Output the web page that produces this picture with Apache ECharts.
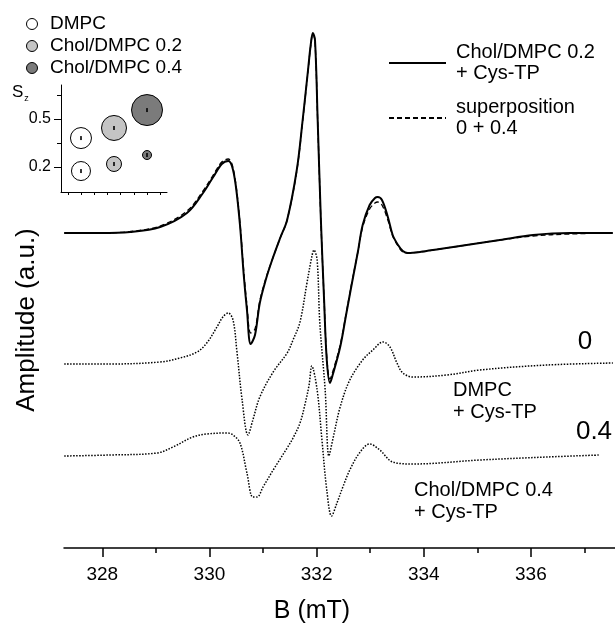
<!DOCTYPE html>
<html>
<head>
<meta charset="utf-8">
<script src="https://cdn.jsdelivr.net/npm/echarts@6/dist/echarts.min.js"></script>
<style>
  html, body { margin: 0; padding: 0; background: #fff; }
  #main { width: 615px; height: 623px; }
</style>
</head>
<body>
<div id="main"></div>
<script>
// EPR spectra, B (mT) against amplitude (a.u.), each spectrum drawn around its own baseline
const myChart = echarts.init(document.getElementById('main'));

const FONT = 'Liberation Sans, Arial, sans-serif';

// top pair: Chol/DMPC 0.2 + Cys-TP (solid) and superposition 0 + 0.4 (dashed)
const fieldTop = [327.29, 327.96, 328.52, 329.08, 329.58, 329.88, 330.07, 330.23, 330.35, 330.42,
  330.49, 330.57, 330.64, 330.70, 330.77, 330.85, 330.94, 331.05, 331.17, 331.32,
  331.45, 331.63, 331.74, 331.84, 331.89, 331.93, 331.97, 332.02, 332.08, 332.14,
  332.19, 332.25, 332.30, 332.44, 332.55, 332.66, 332.77, 332.86, 332.99, 333.09,
  333.14, 333.22, 333.33, 333.42, 333.52, 333.61, 333.70, 333.93, 334.30, 334.80,
  335.42, 336.04, 336.73, 337.53];
const ampChol02 = [0, 0, 1, 6, 20, 40, 56, 69, 72, 67,
  48, 8, -42, -77, -111, -102, -70, -47, -27, -5,
  13, 63, 113, 163, 188, 200, 193, 113, 13, -67,
  -127, -150, -142, -114, -82, -50, -19, 8, 28, 35,
  36, 33, 16, -2, -12, -18, -20, -19, -16, -12,
  -7, -2, 0, 0];
const ampSuperpos = [0, 0, 1.5, 7, 22, 42, 58, 71, 74, 69,
  50, 10, -38, -72, -100, -96, -68, -46, -27, -5,
  13, 62, 112, 162, 187, 199, 192, 112, 12, -66,
  -124, -146, -139, -112, -81, -49, -19, 6, 24, 30,
  31, 28, 13, -3, -13, -19, -20, -19, -16, -12,
  -7, -3, -1, 0];

// DMPC + Cys-TP ("0")
const field0 = [327.29, 328.14, 329.08, 329.45, 329.77, 329.95, 330.14, 330.25, 330.35, 330.44,
  330.51, 330.61, 330.72, 330.81, 330.94, 331.19, 331.45, 331.56, 331.69, 331.82,
  331.91, 331.95, 332.01, 332.06, 332.16, 332.23, 332.30, 332.44, 332.62, 332.86,
  333.05, 333.24, 333.37, 333.50, 333.61, 333.80, 334.43, 335.05, 336.30, 337.53];
const amp0 = [0, 0, 2, 6, 12, 21, 37, 47, 51, 44,
  14, -36, -71, -56, -33, -8, 11, 24, 42, 81,
  107, 114, 104, 41, -26, -92, -76, -43, -16, 4,
  14, 22, 17, 1, -9, -13, -11, -6, -1, 1];

// Chol/DMPC 0.4 + Cys-TP ("0.4")
const field04 = [327.29, 328.14, 329.02, 329.32, 329.69, 329.95, 330.33, 330.44, 330.57, 330.70,
  330.81, 330.89, 331.00, 331.19, 331.45, 331.56, 331.69, 331.78, 331.86, 331.91,
  332.01, 332.10, 332.19, 332.28, 332.38, 332.49, 332.62, 332.80, 332.99, 333.18,
  333.42, 333.80, 335.05, 336.30, 337.29];
const amp04 = [0, 1, 3, 9, 19, 22, 23, 21, 13, -17,
  -41, -41, -31, -14, 8, 18, 33, 51, 71, 90,
  66, 16, -34, -60, -47, -31, -14, 3, 12, 6,
  -6, -8, -4, -1, 1];

// vertical stacking of the three traces
const offsetTop = 315;
const offset0 = 184;
const offset04 = 92;

const majorTicks = [328, 330, 332, 334, 336];
const minorTicks = [329, 331, 333, 335, 337];

// inset: order parameter S_z
const insetNames = ['DMPC', 'Chol/DMPC 0.2', 'Chol/DMPC 0.4'];
const insetChol = [0, 0.2, 0.4];
const szUpper = [0.381, 0.444, 0.556];
const szLower = [0.175, 0.219, 0.275];
const sizeUpper = [21, 25, 31];
const sizeLower = [19, 15, 9];
const insetColors = ['#ffffff', '#c4c4c4', '#7b7b7b'];
const insetXTicks = [-0.08, 0, 0.08, 0.16, 0.24, 0.32, 0.40, 0.48];
const insetYMajor = [0.2, 0.5];
const insetYMinor = [0.35, 0.65];

const nameSolid = 'Chol/DMPC 0.2\n+ Cys-TP';
const nameDashed = 'superposition\n0 + 0.4';

const stack = (field, amp, off) => field.map((b, i) => [b, amp[i] + off]);

const insetSeries = insetNames.map((name, i) => ({
  name: name,
  type: 'scatter',
  xAxisIndex: 2,
  yAxisIndex: 1,
  symbol: 'circle',
  symbolSize: v => v[2],
  itemStyle: { color: insetColors[i], borderColor: '#000', borderWidth: 1, opacity: 1 },
  data: [[insetChol[i], szUpper[i], sizeUpper[i]], [insetChol[i], szLower[i], sizeLower[i]]],
  z: 3
}));

const centerMarks = {
  type: 'scatter',
  xAxisIndex: 2,
  yAxisIndex: 1,
  symbol: 'rect',
  symbolSize: [2, 4],
  itemStyle: { color: '#000' },
  silent: true,
  data: insetChol.map((c, i) => [c, szUpper[i]]).concat(insetChol.map((c, i) => [c, szLower[i]])),
  z: 4
};

const lineSeries = (name, data, style) => ({
  name: name,
  type: 'line',
  xAxisIndex: 0,
  yAxisIndex: 0,
  symbol: 'none',
  smooth: 0.35,
  lineStyle: style,
  data: data,
  silent: true
});

const option = {
  animation: false,
  backgroundColor: '#fff',
  textStyle: { fontFamily: FONT, color: '#000' },
  grid: [
    { left: 64, right: 0, top: 0, bottom: 75 },
    { left: 61, top: 85, width: 106, height: 107 }
  ],
  xAxis: [
    {
      type: 'value', gridIndex: 0, min: 327.285, max: 337.57, position: 'bottom',
      axisLine: { onZero: false, lineStyle: { color: '#000', width: 1.5 } },
      axisTick: { customValues: majorTicks, length: 9, lineStyle: { color: '#000', width: 1.5 } },
      axisLabel: { customValues: majorTicks, fontSize: 19, margin: 17, color: '#000', fontFamily: FONT },
      splitLine: { show: false }
    },
    {
      type: 'value', gridIndex: 0, min: 327.285, max: 337.57, position: 'bottom',
      axisLine: { show: false, onZero: false },
      axisTick: { customValues: minorTicks, length: 5, lineStyle: { color: '#000', width: 1.5 } },
      axisLabel: { show: false },
      splitLine: { show: false }
    },
    {
      type: 'value', gridIndex: 1, min: -0.121, max: 0.521, position: 'bottom',
      axisLine: { onZero: false, lineStyle: { color: '#000', width: 1 } },
      axisTick: { customValues: insetXTicks, length: 3, lineStyle: { color: '#000' } },
      axisLabel: { show: false },
      splitLine: { show: false }
    }
  ],
  yAxis: [
    { type: 'value', gridIndex: 0, min: 0, max: 548, show: false },
    {
      type: 'value', gridIndex: 1, min: 0.044, max: 0.7125, position: 'left',
      axisLine: { show: true, onZero: false, lineStyle: { color: '#000', width: 1 } },
      axisTick: { show: true, customValues: insetYMajor, length: 7, lineStyle: { color: '#000' } },
      axisLabel: { customValues: insetYMajor, fontSize: 16, margin: 10, color: '#000', fontFamily: FONT,
        formatter: v => v.toFixed(1) },
      splitLine: { show: false }
    },
    {
      type: 'value', gridIndex: 1, min: 0.044, max: 0.7125, position: 'left',
      axisLine: { show: false, onZero: false },
      axisTick: { show: true, customValues: insetYMinor, length: 4, lineStyle: { color: '#000' } },
      axisLabel: { show: false },
      splitLine: { show: false }
    }
  ],
  legend: [
    {
      data: insetNames,
      orient: 'vertical',
      left: 21, top: 8,
      icon: 'circle',
      itemWidth: 26, itemHeight: 11, itemGap: 0,
      itemStyle: { borderColor: '#000', borderWidth: 1 },
      textStyle: { fontSize: 19, lineHeight: 22, color: '#000', fontFamily: FONT },
      selectedMode: false
    },
    {
      data: [nameSolid, nameDashed],
      orient: 'vertical',
      left: 383, top: 37,
      itemWidth: 57, itemHeight: 12, itemGap: 13,
      itemStyle: { color: 'transparent', borderWidth: 0, opacity: 0 },
      textStyle: { fontSize: 20, lineHeight: 21, color: '#000', fontFamily: FONT, padding: [0, 0, 0, 5] },
      selectedMode: false
    }
  ],
  series: [
    lineSeries(nameDashed, stack(fieldTop, ampSuperpos, offsetTop), { color: '#000', width: 1.3, type: [5, 3] }),
    lineSeries(nameSolid, stack(fieldTop, ampChol02, offsetTop), { color: '#000', width: 2 }),
    lineSeries('0', stack(field0, amp0, offset0), { color: '#000', width: 1.5, type: [1.5, 1.5] }),
    lineSeries('0.4', stack(field04, amp04, offset04), { color: '#000', width: 1.5, type: [1.5, 1.5] })
  ].concat(insetSeries, [centerMarks]),
  graphic: [
    { type: 'text', x: 27, y: 320, rotation: Math.PI / 2,
      style: { text: 'Amplitude (a.u.)', fontSize: 26, fontFamily: FONT, fill: '#000', align: 'center', verticalAlign: 'middle' } },
    { type: 'text', x: 312, y: 611,
      style: { text: 'B (mT)', fontSize: 25, fontFamily: FONT, fill: '#000', align: 'center', verticalAlign: 'middle' } },
    { type: 'text', x: 12, y: 92,
      style: { text: '{s|S}{z|z}', fontFamily: FONT, fill: '#000', verticalAlign: 'middle',
        rich: { s: { fontSize: 17, fontFamily: FONT }, z: { fontSize: 9, fontFamily: FONT, padding: [14, 0, 0, 1] } } } },
    { type: 'text', x: 585, y: 342,
      style: { text: '0', fontSize: 26, fontFamily: FONT, fill: '#000', align: 'center', verticalAlign: 'middle' } },
    { type: 'text', x: 453, y: 401,
      style: { text: 'DMPC\n+ Cys-TP', fontSize: 20, lineHeight: 22, fontFamily: FONT, fill: '#000', verticalAlign: 'middle' } },
    { type: 'text', x: 594, y: 432,
      style: { text: '0.4', fontSize: 26, fontFamily: FONT, fill: '#000', align: 'center', verticalAlign: 'middle' } },
    { type: 'text', x: 414, y: 501,
      style: { text: 'Chol/DMPC 0.4\n+ Cys-TP', fontSize: 20, lineHeight: 22, fontFamily: FONT, fill: '#000', verticalAlign: 'middle' } }
  ]
};

myChart.setOption(option);
</script>
</body>
</html>
